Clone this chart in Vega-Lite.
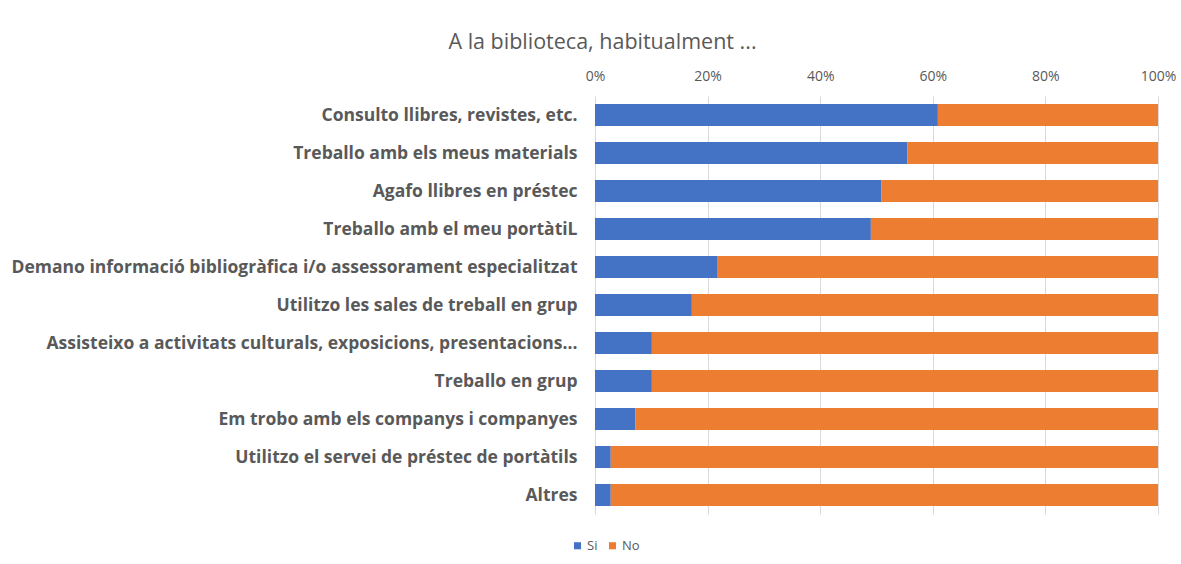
{
  "$schema": "https://vega.github.io/schema/vega-lite/v6.json",
  "width": 563,
  "height": 418,
  "autosize": {"type": "none"},
  "padding": {"left": 595, "top": 96, "right": 23, "bottom": 50},
  "background": "white",
  "title": {
    "text": "A la biblioteca, habitualment ...",
    "fontSize": 21.5,
    "fontWeight": "normal",
    "font": "Open Sans",
    "color": "#595959",
    "anchor": "middle",
    "dx": -274,
    "offset": 16
  },
  "data": {
    "values": [
      {"activitat": "Consulto llibres, revistes, etc.", "resposta": "Si", "percent": 60.9},
      {"activitat": "Consulto llibres, revistes, etc.", "resposta": "No", "percent": 39.1},
      {"activitat": "Treballo amb els meus materials", "resposta": "Si", "percent": 55.5},
      {"activitat": "Treballo amb els meus materials", "resposta": "No", "percent": 44.5},
      {"activitat": "Agafo llibres en préstec", "resposta": "Si", "percent": 50.9},
      {"activitat": "Agafo llibres en préstec", "resposta": "No", "percent": 49.1},
      {"activitat": "Treballo amb el meu portàtiL", "resposta": "Si", "percent": 49.0},
      {"activitat": "Treballo amb el meu portàtiL", "resposta": "No", "percent": 51.0},
      {"activitat": "Demano informació bibliogràfica i/o assessorament especialitzat", "resposta": "Si", "percent": 21.8},
      {"activitat": "Demano informació bibliogràfica i/o assessorament especialitzat", "resposta": "No", "percent": 78.2},
      {"activitat": "Utilitzo les sales de treball en grup", "resposta": "Si", "percent": 17.2},
      {"activitat": "Utilitzo les sales de treball en grup", "resposta": "No", "percent": 82.8},
      {"activitat": "Assisteixo a activitats culturals, exposicions, presentacions...", "resposta": "Si", "percent": 10.1},
      {"activitat": "Assisteixo a activitats culturals, exposicions, presentacions...", "resposta": "No", "percent": 89.9},
      {"activitat": "Treballo en grup", "resposta": "Si", "percent": 10.1},
      {"activitat": "Treballo en grup", "resposta": "No", "percent": 89.9},
      {"activitat": "Em trobo amb els companys i companyes", "resposta": "Si", "percent": 7.2},
      {"activitat": "Em trobo amb els companys i companyes", "resposta": "No", "percent": 92.8},
      {"activitat": "Utilitzo el servei de préstec de portàtils", "resposta": "Si", "percent": 2.8},
      {"activitat": "Utilitzo el servei de préstec de portàtils", "resposta": "No", "percent": 97.2},
      {"activitat": "Altres", "resposta": "Si", "percent": 2.8},
      {"activitat": "Altres", "resposta": "No", "percent": 97.2}
    ]
  },
  "mark": {"type": "bar"},
  "encoding": {
    "y": {
      "field": "activitat",
      "type": "nominal",
      "sort": null,
      "scale": {"paddingInner": 0.42, "paddingOuter": 0.21},
      "axis": {
        "title": null,
        "ticks": false,
        "domain": false,
        "labelFont": "Open Sans",
        "labelFontSize": 17.5,
        "labelFontWeight": "bold",
        "labelColor": "#595959",
        "labelPadding": 18,
        "labelLimit": 800,
        "labelOffset": 1
      }
    },
    "x": {
      "field": "percent",
      "type": "quantitative",
      "stack": "normalize",
      "scale": {"domain": [0, 1]},
      "axis": {
        "orient": "top",
        "title": null,
        "format": "%",
        "values": [0, 0.2, 0.4, 0.6, 0.8, 1],
        "grid": true,
        "gridColor": "#d9d9d9",
        "gridWidth": 1,
        "domain": false,
        "ticks": false,
        "labelFlush": false,
        "labelFont": "Open Sans",
        "labelFontSize": 14,
        "labelColor": "#595959",
        "labelPadding": 13
      }
    },
    "color": {
      "field": "resposta",
      "type": "nominal",
      "scale": {"domain": ["Si", "No"], "range": ["#4472C4", "#ED7D31"]},
      "legend": {
        "title": null,
        "orient": "none",
        "legendX": -24,
        "legendY": 443,
        "direction": "horizontal",
        "symbolType": "square",
        "symbolSize": 50,
        "symbolStrokeWidth": 0,
        "labelFont": "Open Sans",
        "labelFontSize": 13,
        "labelColor": "#595959",
        "columnPadding": 8,
        "labelOffset": 3
      }
    },
    "order": {"field": "resposta", "sort": "descending"}
  },
  "config": {
    "view": {"stroke": null}
  }
}
